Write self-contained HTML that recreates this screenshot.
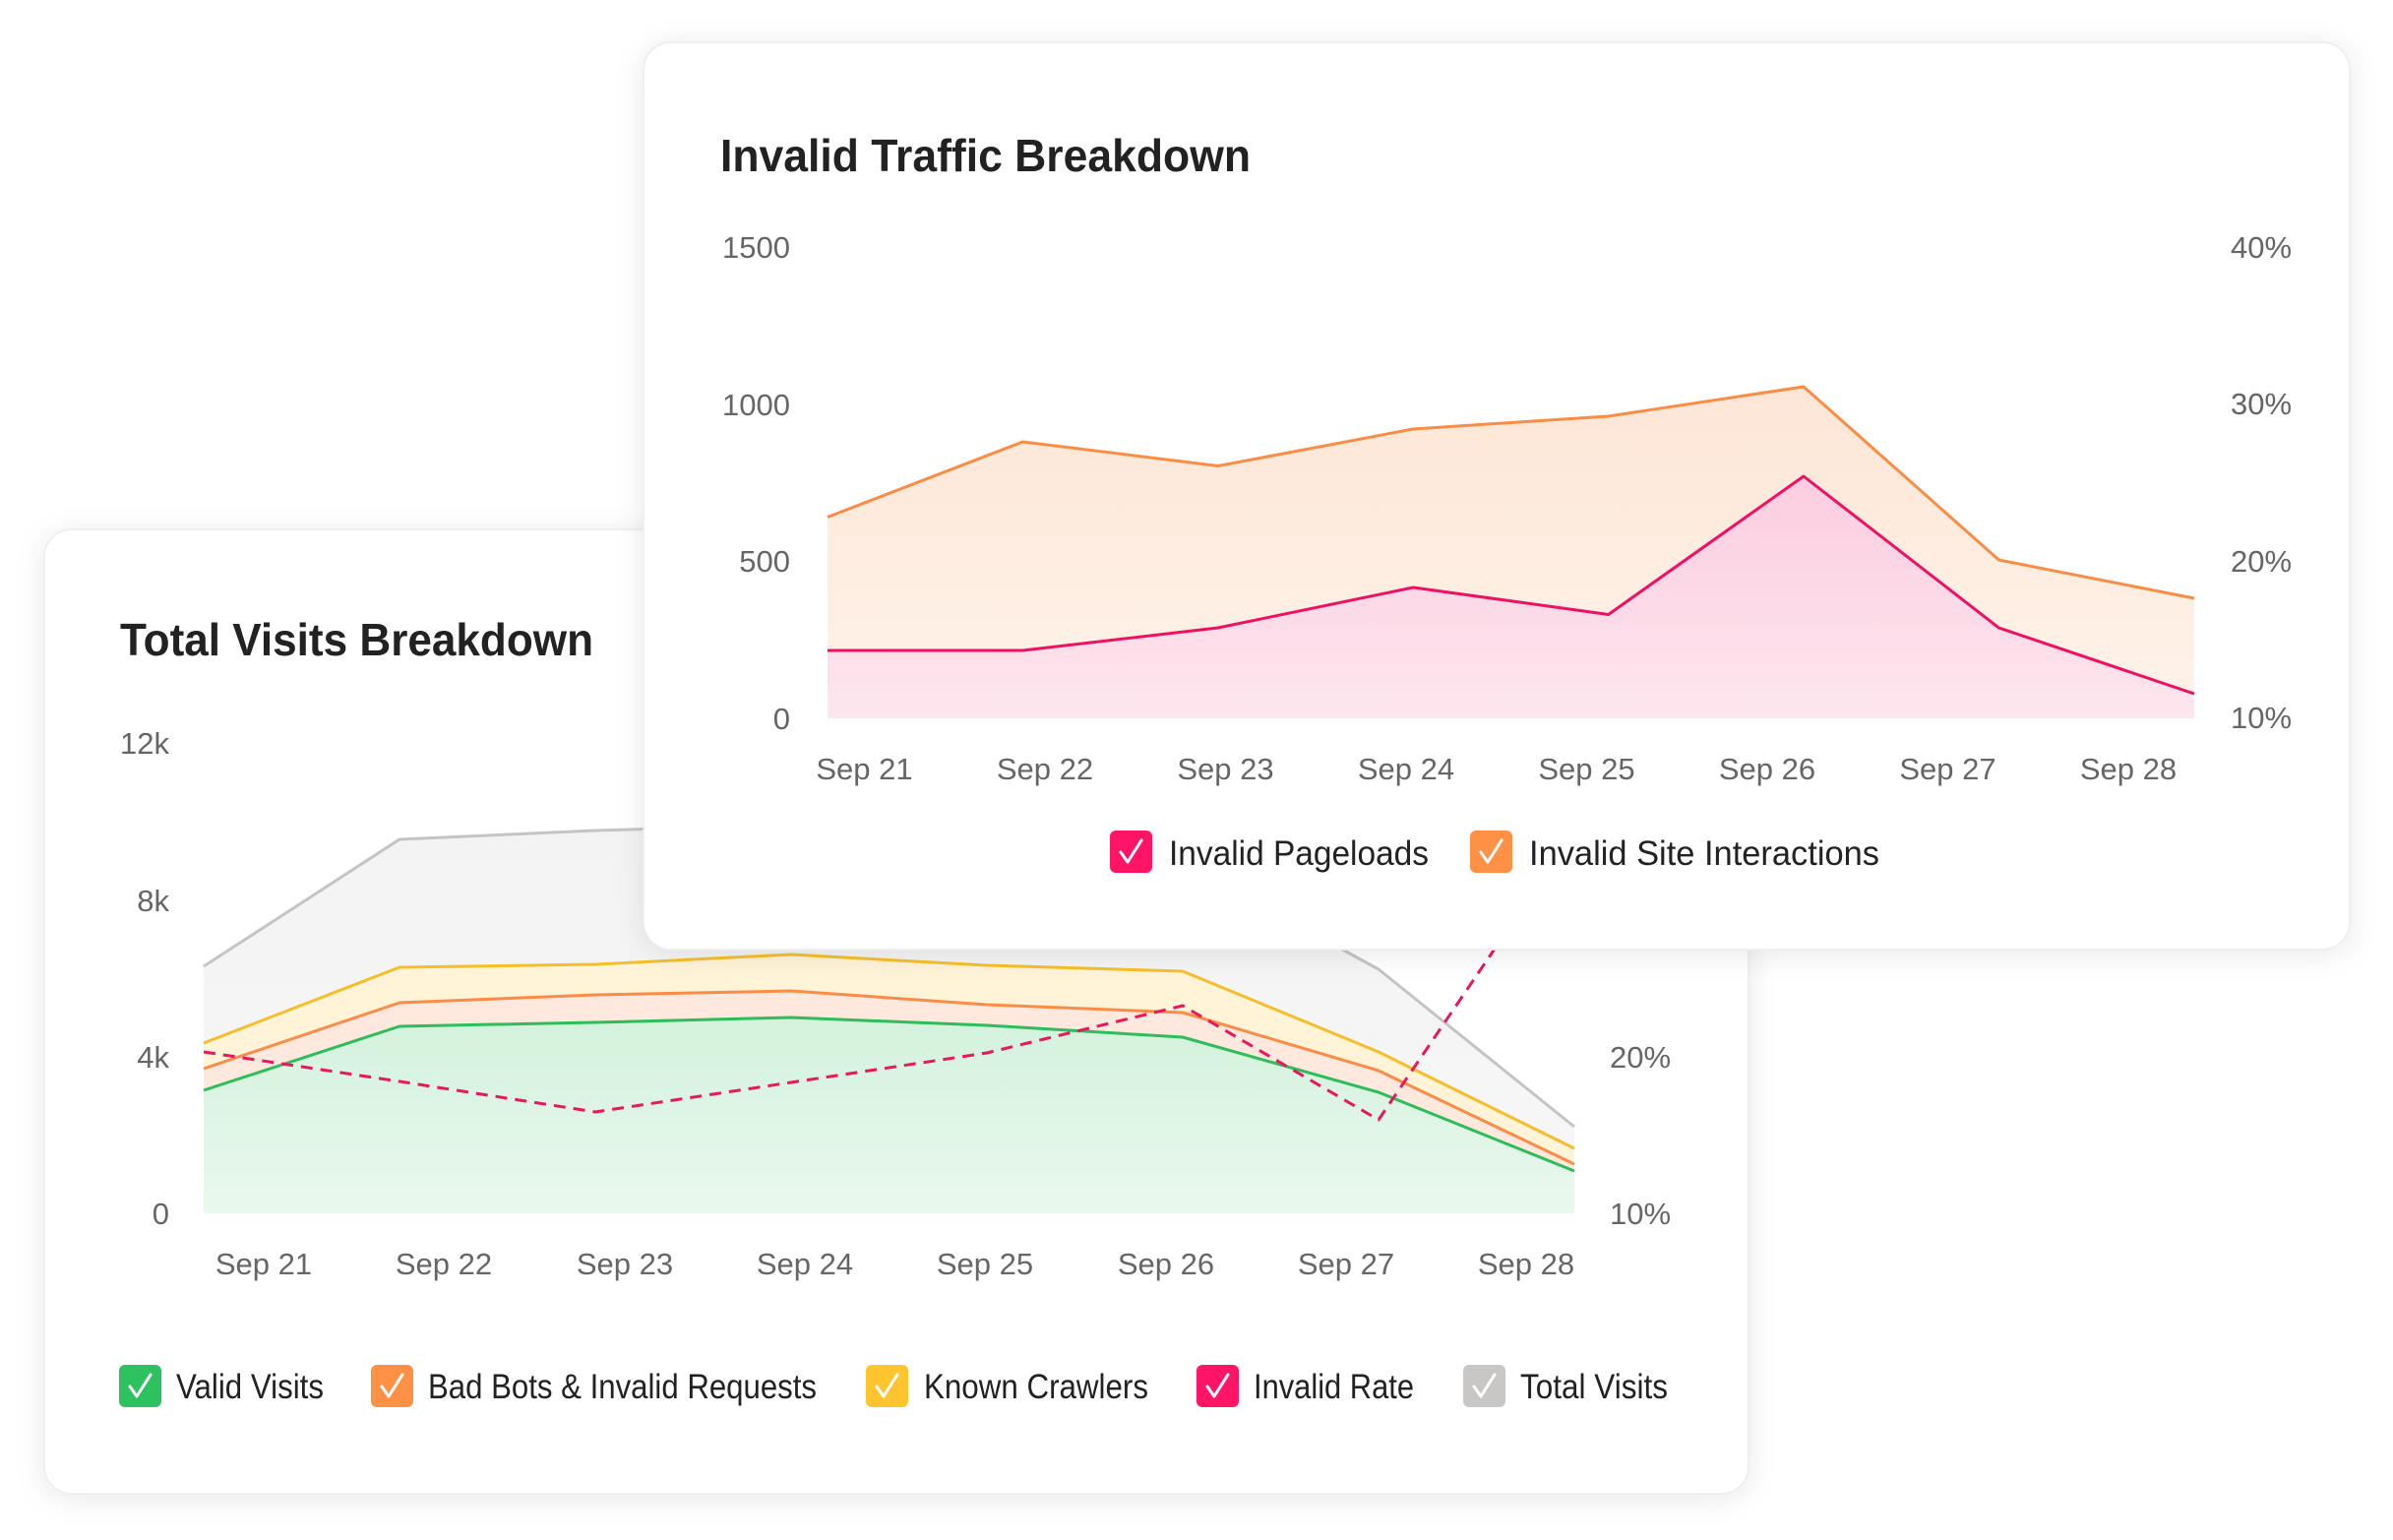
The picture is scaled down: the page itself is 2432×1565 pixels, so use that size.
<!DOCTYPE html>
<html><head><meta charset="utf-8">
<style>
html,body{margin:0;padding:0;background:#fff;}
svg{display:block;}
text{font-family:"Liberation Sans",Arial,sans-serif;}
</style></head>
<body>
<svg width="2432" height="1565" viewBox="0 0 2432 1565" xmlns="http://www.w3.org/2000/svg">
<defs>
  <filter id="sh" x="-10%" y="-10%" width="120%" height="125%">
    <feDropShadow dx="0" dy="4" stdDeviation="14" flood-color="#000" flood-opacity="0.09"/>
  </filter>
  <linearGradient id="gGreen" x1="0" y1="0" x2="0" y2="1">
    <stop offset="0" stop-color="#D3F2DC"/><stop offset="1" stop-color="#EAF8EE"/>
  </linearGradient>
  <linearGradient id="gGrey" x1="0" y1="0" x2="0" y2="1">
    <stop offset="0" stop-color="#F3F3F3"/><stop offset="1" stop-color="#F7F7F7"/>
  </linearGradient>
  <linearGradient id="gOrF" x1="0" y1="0" x2="0" y2="1">
    <stop offset="0" stop-color="#FDE6D6"/><stop offset="1" stop-color="#FEF3EA"/>
  </linearGradient>
  <linearGradient id="gPk" x1="0" y1="0" x2="0" y2="1">
    <stop offset="0" stop-color="#FCCDE0"/><stop offset="1" stop-color="#FDE6EE"/>
  </linearGradient>
</defs>

<!-- ============ BACK CARD ============ -->
<rect x="45" y="538" width="1732" height="980" rx="28" ry="28" fill="#fff" stroke="#ececec" stroke-width="1.5" filter="url(#sh)"/>

<text x="122" y="666" font-size="46" font-weight="bold" fill="#222" textLength="481" lengthAdjust="spacingAndGlyphs">Total Visits Breakdown</text>

<!-- y labels -->
<g font-size="31" fill="#666" text-anchor="end">
  <text x="172" y="766">12k</text>
  <text x="172" y="926">8k</text>
  <text x="172" y="1085">4k</text>
  <text x="172" y="1244">0</text>
</g>
<g font-size="31" fill="#666">
  <text x="1636" y="1085">20%</text>
  <text x="1636" y="1244">10%</text>
</g>

<!-- areas -->
<path d="M207,982 L406,853 L605,844 L804,838 L1003,850 L1202,876 L1401,985 L1600,1145 L1600,1233 L207,1233 Z" fill="url(#gGrey)"/>
<path d="M207,1060 L406,983 L605,980 L804,970 L1003,981 L1202,987 L1401,1069 L1600,1167 L1600,1233 L207,1233 Z" fill="#FFF3D8"/>
<path d="M207,1086 L406,1019 L605,1011 L804,1007 L1003,1021 L1202,1029 L1401,1088 L1600,1183 L1600,1233 L207,1233 Z" fill="#FFE8DD"/>
<path d="M207,1108 L406,1043 L605,1039 L804,1034 L1003,1042 L1202,1054 L1401,1110 L1600,1190 L1600,1233 L207,1233 Z" fill="url(#gGreen)"/>

<!-- lines -->
<g fill="none" stroke-width="3" stroke-linejoin="round">
  <polyline points="207,982 406,853 605,844 804,838 1003,850 1202,876 1401,985 1600,1145" stroke="#C4C4C4"/>
  <polyline points="207,1060 406,983 605,980 804,970 1003,981 1202,987 1401,1069 1600,1167" stroke="#F6BE2A"/>
  <polyline points="207,1086 406,1019 605,1011 804,1007 1003,1021 1202,1029 1401,1088 1600,1183" stroke="#F98D48"/>
  <polyline points="207,1108 406,1043 605,1039 804,1034 1003,1042 1202,1054 1401,1110 1600,1190" stroke="#2DBD5A"/>
  <polyline points="207,1069 406,1099 605,1130 804,1100 1003,1070 1202,1022 1401,1138 1600,845" stroke="#E8175E" stroke-dasharray="12 8"/>
</g>

<!-- x labels -->
<g font-size="31" fill="#666" text-anchor="middle">
  <text x="268" y="1295">Sep 21</text>
  <text x="451" y="1295">Sep 22</text>
  <text x="635" y="1295">Sep 23</text>
  <text x="818" y="1295">Sep 24</text>
  <text x="1001" y="1295">Sep 25</text>
  <text x="1185" y="1295">Sep 26</text>
  <text x="1368" y="1295">Sep 27</text>
  <text x="1551" y="1295">Sep 28</text>
</g>

<!-- back legend -->
<g>
  <rect x="121" y="1387" width="43" height="43" rx="6" fill="#2DC25F"/>
  <path d="M132,1409 L139,1419 L153,1397" fill="none" stroke="#fff" stroke-width="3" stroke-linecap="round" stroke-linejoin="round"/>
  <text x="179" y="1421" font-size="35" fill="#222" textLength="150" lengthAdjust="spacingAndGlyphs">Valid Visits</text>

  <rect x="377" y="1387" width="43" height="43" rx="6" fill="#FF9147"/>
  <path d="M388,1409 L395,1419 L409,1397" fill="none" stroke="#fff" stroke-width="3" stroke-linecap="round" stroke-linejoin="round"/>
  <text x="435" y="1421" font-size="35" fill="#222" textLength="395" lengthAdjust="spacingAndGlyphs">Bad Bots &amp; Invalid Requests</text>

  <rect x="880" y="1387" width="43" height="43" rx="6" fill="#FFC42E"/>
  <path d="M891,1409 L898,1419 L912,1397" fill="none" stroke="#fff" stroke-width="3" stroke-linecap="round" stroke-linejoin="round"/>
  <text x="939" y="1421" font-size="35" fill="#222" textLength="228" lengthAdjust="spacingAndGlyphs">Known Crawlers</text>

  <rect x="1216" y="1387" width="43" height="43" rx="6" fill="#FF1466"/>
  <path d="M1227,1409 L1234,1419 L1248,1397" fill="none" stroke="#fff" stroke-width="3" stroke-linecap="round" stroke-linejoin="round"/>
  <text x="1274" y="1421" font-size="35" fill="#222" textLength="163" lengthAdjust="spacingAndGlyphs">Invalid Rate</text>

  <rect x="1487" y="1387" width="43" height="43" rx="6" fill="#C9C7C5"/>
  <path d="M1498,1409 L1505,1419 L1519,1397" fill="none" stroke="#fff" stroke-width="3" stroke-linecap="round" stroke-linejoin="round"/>
  <text x="1545" y="1421" font-size="35" fill="#222" textLength="150" lengthAdjust="spacingAndGlyphs">Total Visits</text>
</g>

<!-- ============ FRONT CARD ============ -->
<rect x="654" y="43" width="1734" height="922" rx="28" ry="28" fill="#fff" stroke="#ececec" stroke-width="1.5" filter="url(#sh)"/>

<text x="732" y="174" font-size="46" font-weight="bold" fill="#222" textLength="539" lengthAdjust="spacingAndGlyphs">Invalid Traffic Breakdown</text>

<g font-size="31" fill="#666" text-anchor="end">
  <text x="803" y="262">1500</text>
  <text x="803" y="422">1000</text>
  <text x="803" y="581">500</text>
  <text x="803" y="741">0</text>
</g>
<g font-size="31" fill="#666">
  <text x="2267" y="262">40%</text>
  <text x="2267" y="421">30%</text>
  <text x="2267" y="581">20%</text>
  <text x="2267" y="740">10%</text>
</g>

<path d="M841,525.5 L1039.4,449 L1237.8,473.5 L1436.2,436 L1634.6,423 L1833,393 L2031.4,569 L2230,608 L2230,730 L841,730 Z" fill="url(#gOrF)"/>
<path d="M841,661 L1039.4,661 L1237.8,638 L1436.2,597 L1634.6,624.5 L1833,484 L2031.4,638 L2230,705 L2230,730 L841,730 Z" fill="url(#gPk)"/>
<g fill="none" stroke-width="3" stroke-linejoin="round">
  <polyline points="841,525.5 1039.4,449 1237.8,473.5 1436.2,436 1634.6,423 1833,393 2031.4,569 2230,608" stroke="#F98D45"/>
  <polyline points="841,661 1039.4,661 1237.8,638 1436.2,597 1634.6,624.5 1833,484 2031.4,638 2230,705" stroke="#EE1163"/>
</g>

<g font-size="31" fill="#666" text-anchor="middle">
  <text x="878.5" y="792">Sep 21</text>
  <text x="1062" y="792">Sep 22</text>
  <text x="1245.5" y="792">Sep 23</text>
  <text x="1429" y="792">Sep 24</text>
  <text x="1612.5" y="792">Sep 25</text>
  <text x="1796" y="792">Sep 26</text>
  <text x="1979.5" y="792">Sep 27</text>
  <text x="2163" y="792">Sep 28</text>
</g>

<g>
  <rect x="1128" y="844" width="43" height="43" rx="6" fill="#FF1466"/>
  <path d="M1139,866 L1146,876 L1160,854" fill="none" stroke="#fff" stroke-width="3" stroke-linecap="round" stroke-linejoin="round"/>
  <text x="1188" y="879" font-size="35" fill="#222" textLength="264" lengthAdjust="spacingAndGlyphs">Invalid Pageloads</text>

  <rect x="1494" y="844" width="43" height="43" rx="6" fill="#FF9147"/>
  <path d="M1505,866 L1512,876 L1526,854" fill="none" stroke="#fff" stroke-width="3" stroke-linecap="round" stroke-linejoin="round"/>
  <text x="1554" y="879" font-size="35" fill="#222" textLength="356" lengthAdjust="spacingAndGlyphs">Invalid Site Interactions</text>
</g>
</svg>
</body></html>
